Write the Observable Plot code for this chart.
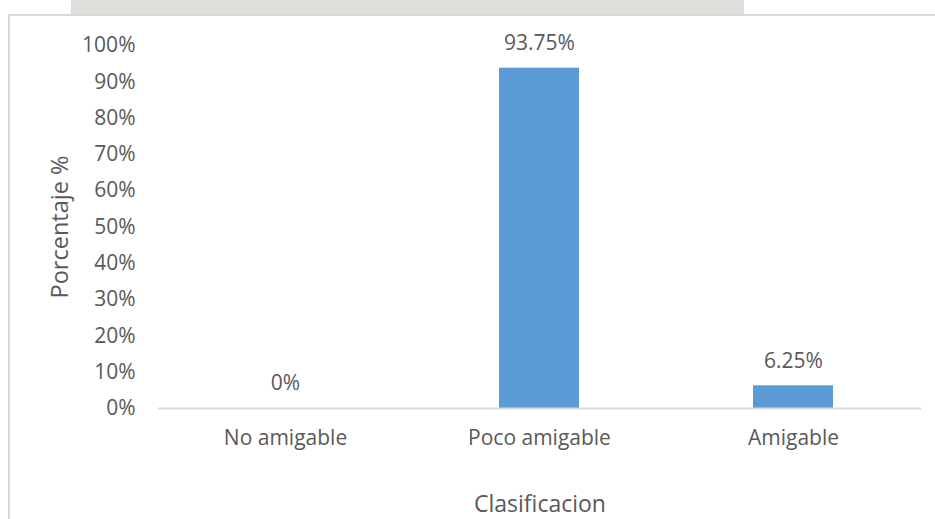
<!DOCTYPE html>
<html>
<head>
<meta charset="utf-8">
<script src="https://cdn.jsdelivr.net/npm/d3@7"></script>
<script src="https://cdn.jsdelivr.net/npm/@observablehq/plot@0.6"></script>
<style>
  html, body { margin: 0; padding: 0; background: #fff; }
  #wrap { position: relative; width: 935px; height: 519px; overflow: hidden; }
  #wm { position: absolute; left: 71px; top: 0; width: 673px; height: 14px; background: #dde0da; }
  #border { position: absolute; left: 8px; top: 14px; right: -2px; bottom: -2px;
            border-top: 2px solid #d9d9d9; border-left: 2px solid #d9d9d9; pointer-events: none; }
  #wrap svg { position: absolute; left: 0; top: 0; display: block; }
</style>
</head>
<body>
<div id="wrap"><div id="wm"></div><div id="border"></div></div>
<script>
const categories = ["No amigable", "Poco amigable", "Amigable"];
const values = [0, 0.9375, 0.0625];
const valueLabels = ["0%", "93.75%", "6.25%"];
const yTicks = [0, 0.1, 0.2, 0.3, 0.4, 0.5, 0.6, 0.7, 0.8, 0.9, 1.0];
const xTitle = "Clasificacion";
const yTitle = "Porcentaje %";

const data = categories.map((c, i) => ({cat: c, v: values[i], lab: valueLabels[i]}));
const font = "Open Sans, Lato, sans-serif";
const textColor = "#595959";

const chart = Plot.plot({
  width: 935,
  height: 519,
  marginLeft: 158,
  marginRight: 14,
  marginTop: 45,
  marginBottom: 111,
  style: {fontFamily: font, fontSize: "21px", color: textColor, background: "transparent"},
  x: {domain: categories, paddingInner: 0.685, paddingOuter: 0.3425, label: null},
  y: {domain: [0, 1], label: null},
  marks: [
    Plot.axisY({ticks: yTicks, tickFormat: d3.format(".0%"), tickSize: 0, tickPadding: 23,
      fontSize: 21, fill: textColor, label: null}),
    Plot.axisX({tickSize: 0, tickPadding: 22, fontSize: 21, fill: textColor, label: null}),
    Plot.barY(data, {x: "cat", y: "v", fill: "#5b9bd5"}),
    Plot.ruleY([0], {stroke: "#d9d9d9", strokeWidth: 2}),
    Plot.text(data, {x: "cat", y: "v", text: "lab", dy: -25, fontSize: 21, fill: textColor}),
    Plot.text([yTitle], {frameAnchor: "left", textAnchor: "middle", lineAnchor: "middle",
      dx: -98, rotate: -90, fontSize: 23.5, fill: textColor}),
    Plot.text([xTitle], {frameAnchor: "bottom", textAnchor: "middle", lineAnchor: "middle",
      dy: 96, fontSize: 23, fill: textColor})
  ]
});
document.getElementById("wrap").appendChild(chart);
</script>
</body>
</html>
